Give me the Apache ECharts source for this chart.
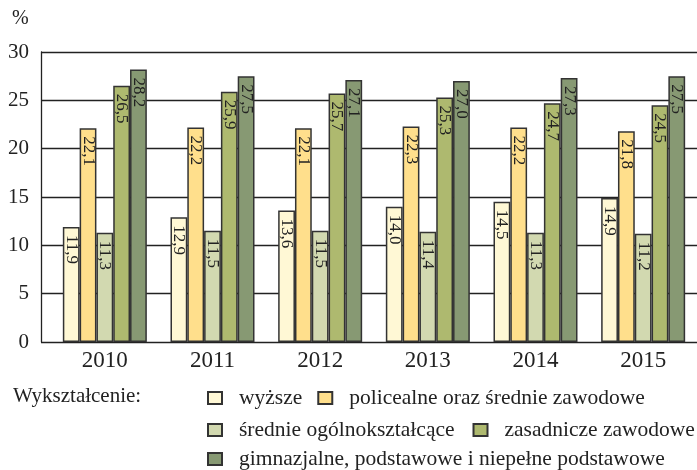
<!DOCTYPE html>
<html>
<head>
<meta charset="utf-8">
<script src="https://cdn.jsdelivr.net/npm/echarts@6/dist/echarts.min.js"></script>
<style>
  html, body { margin: 0; padding: 0; background: #fff; }
  #chart { width: 697px; height: 470px; }
</style>
</head>
<body>
<div id="chart"></div>
<script>
// lata
var years = ['2010', '2011', '2012', '2013', '2014', '2015'];

// nazwy serii (wykształcenie)
var seriesNames = [
    'wyższe',
    'policealne oraz średnie zawodowe',
    'średnie ogólnokształcące',
    'zasadnicze zawodowe',
    'gimnazjalne, podstawowe i niepełne podstawowe'
];

// wartości w %
var wyzsze = [11.9, 12.9, 13.6, 14.0, 14.5, 14.9];
var policealne = [22.1, 22.2, 22.1, 22.3, 22.2, 21.8];
var srednieOgolne = [11.3, 11.5, 11.5, 11.4, 11.3, 11.2];
var zasadnicze = [26.5, 25.9, 25.7, 25.3, 24.7, 24.5];
var gimnazjalne = [28.2, 27.5, 27.1, 27.0, 27.3, 27.5];

var seriesData = [wyzsze, policealne, srednieOgolne, zasadnicze, gimnazjalne];
var seriesColors = ['#FFF8D5', '#FFDF8C', '#D2D9B0', '#AEB96F', '#879973'];

var FONT = '"Liberation Serif", "DejaVu Serif", serif';

var chart = echarts.init(document.getElementById('chart'));

var series = [];
for (var i = 0; i < seriesNames.length; i++) {
    series.push({
        name: seriesNames[i],
        type: 'bar',
        xAxisIndex: 1,
        yAxisIndex: 1,
        data: seriesData[i],
        barWidth: 16.8,
        barGap: '0%',
        itemStyle: {
            color: seriesColors[i],
            borderColor: '#333',
            borderWidth: 1.5
        },
        label: {
            show: true,
            position: 'insideTop',
            rotate: -90,
            align: 'left',
            verticalAlign: 'middle',
            distance: 0,
            offset: [8, 0],   // przesunięcie w układzie obróconego tekstu (w dół)
            fontFamily: FONT,
            fontSize: 17,
            color: '#222',
            formatter: function (p) {
                return p.value.toFixed(1).replace('.', ',');
            }
        }
    });
}

var legendText = {
    fontFamily: FONT,
    fontSize: 21.5,
    color: '#222',
    padding: [0, 0, 0, 12]
};

var option = {
    animation: false,
    title: [
        { text: '%', left: 7, top: 4, textStyle: { fontFamily: FONT, fontSize: 20, fontWeight: 'normal', color: '#222' } },
        { text: 'Wykształcenie:', left: 8, top: 381, textStyle: { fontFamily: FONT, fontSize: 21, fontWeight: 'normal', color: '#222' } }
    ],
    legend: [
        {
            data: seriesNames.slice(0, 2), left: 207, top: 387, padding: 0,
            itemWidth: 14, itemHeight: 12, itemGap: 15, icon: 'rect', textStyle: legendText
        },
        {
            data: seriesNames.slice(2, 4), left: 207, top: 419, padding: 0,
            itemWidth: 14, itemHeight: 12, itemGap: 18, icon: 'rect', textStyle: legendText
        },
        {
            data: seriesNames.slice(4), left: 207, top: 448, padding: 0,
            itemWidth: 14, itemHeight: 12, icon: 'rect', textStyle: legendText
        }
    ],
    grid: [
        { left: 41, top: 52, width: 656, height: 290 },
        { left: 51, top: 52, width: 649, height: 290 }
    ],
    xAxis: [
        { type: 'value', gridIndex: 0, show: false },
        {
            type: 'category',
            gridIndex: 1,
            data: years,
            axisLine: { show: false },
            axisTick: { show: false },
            axisLabel: { fontFamily: FONT, fontSize: 23, color: '#222', margin: 7 }
        }
    ],
    yAxis: [
        {
            type: 'value',
            gridIndex: 0,
            min: 0,
            max: 30,
            interval: 5,
            axisLine: { show: true, lineStyle: { color: '#222', width: 1.3 } },
            axisTick: { show: false },
            splitLine: { lineStyle: { color: '#222', width: 1.3 } },
            axisLabel: { fontFamily: FONT, fontSize: 21, color: '#222', margin: 12 }
        },
        { type: 'value', gridIndex: 1, min: 0, max: 30, show: false }
    ],
    series: series
};

chart.setOption(option);
</script>
</body>
</html>
